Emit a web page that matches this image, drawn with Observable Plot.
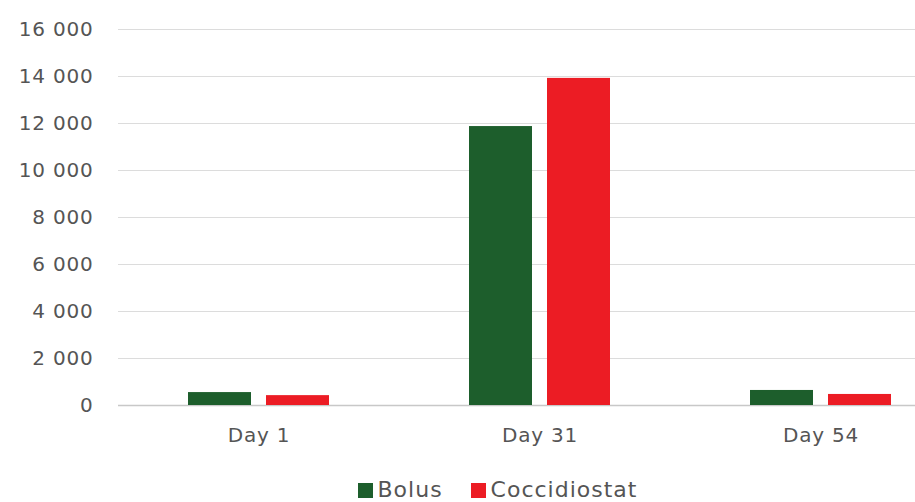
<!DOCTYPE html>
<html>
<head>
<meta charset="utf-8">
<script src="https://cdn.jsdelivr.net/npm/d3@7"></script>
<script src="https://cdn.jsdelivr.net/npm/@observablehq/plot@0.6"></script>
<style>
  html, body { margin: 0; padding: 0; background: #fff; overflow: hidden; }
  #chart { width: 915px; }
  .legend { display: flex; justify-content: center; align-items: center; gap: 28px;
    font-family: "DejaVu Sans", sans-serif; font-size: 22px; letter-spacing: 1px; color: #555; margin-top: 27px; padding-left: 80px; }
  .legend span.sw { display: inline-block; width: 15px; height: 15px; margin-right: 5px; vertical-align: -1px; }
  svg text { letter-spacing: 0.8px; }
</style>
</head>
<body>
<div id="chart"></div>
<script>
const days = ["Day 1", "Day 31", "Day 54"];
const series = ["Bolus", "Coccidiostat"];
const bolus = [550, 11870, 640];
const coccidiostat = [420, 13920, 470];
const colors = ["#1d5e2c", "#ec1c24"];
const yTicks = [0, 2000, 4000, 6000, 8000, 10000, 12000, 14000, 16000];

const data = [];
days.forEach((d, i) => {
  data.push({day: d, series: "Bolus", value: bolus[i]});
  data.push({day: d, series: "Coccidiostat", value: coccidiostat[i]});
});

const fmt = v => d3.format(",")(v).replace(/,/g, " ");

const plot = Plot.plot({
  width: 915,
  height: 450,
  marginLeft: 117,
  marginRight: 0,
  marginTop: 29,
  marginBottom: 45,
  style: {fontFamily: "DejaVu Sans, sans-serif", fontSize: "20px", color: "#555"},
  fx: {domain: days, range: [117, 962], padding: 0, label: null},
  x: {domain: series, paddingInner: 0.19, paddingOuter: 0.877, axis: null},
  y: {domain: [0, 16000], ticks: yTicks, label: null},
  color: {domain: series, range: colors},
  marks: [
    Plot.ruleY(yTicks.filter(t => t > 0), {stroke: "#dcdcdc", strokeWidth: 1.2}),
    Plot.ruleY([0], {stroke: "#c8c8c8", strokeWidth: 1.5}),
    Plot.barY(data, {fx: "day", x: "series", y: "value", fill: "series"}),
    Plot.axisY(yTicks, {tickSize: 0, tickPadding: 25, tickFormat: fmt, fontSize: 20, fill: "#555"}),
    Plot.axisFx({anchor: "bottom", tickSize: 0, tickPadding: 22, fontSize: 20, fill: "#555", label: null})
  ]
});
document.getElementById("chart").appendChild(plot);

const leg = document.createElement("div");
leg.className = "legend";
series.forEach((s, i) => {
  const item = document.createElement("div");
  item.innerHTML = `<span class="sw" style="background:${colors[i]}"></span>${s}`;
  leg.appendChild(item);
});
document.getElementById("chart").appendChild(leg);
</script>
</body>
</html>
